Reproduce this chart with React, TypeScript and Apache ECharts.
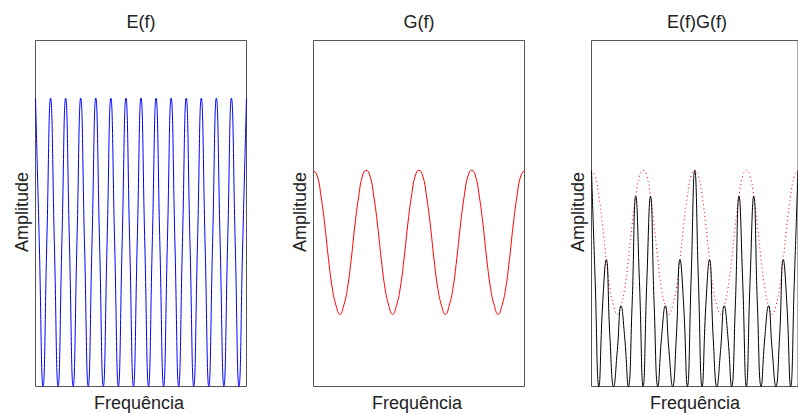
import React, { useEffect, useRef } from "react";
import * as echarts from "echarts";

// Sampled spectra on a shared frequency grid (57 samples, 4 per period of E)
const eValues: number[] = [
  1, 0.5, 0, 0.5, 1, 0.5, 0, 0.5, 1, 0.5, 0, 0.5, 1, 0.5, 0, 0.5,
  1, 0.5, 0, 0.5, 1, 0.5, 0, 0.5, 1, 0.5, 0, 0.5, 1, 0.5, 0, 0.5,
  1, 0.5, 0, 0.5, 1, 0.5, 0, 0.5, 1, 0.5, 0, 0.5, 1, 0.5, 0, 0.5,
  1, 0.5, 0, 0.5, 1, 0.5, 0, 0.5, 1,
];

const gValues: number[] = [
  0.75, 0.73, 0.66, 0.56, 0.44, 0.34, 0.28, 0.25, 0.28, 0.34, 0.44, 0.56, 0.66, 0.73,
  0.75, 0.73, 0.66, 0.56, 0.44, 0.34, 0.28, 0.25, 0.28, 0.34, 0.44, 0.56, 0.66, 0.73,
  0.75, 0.73, 0.66, 0.56, 0.44, 0.34, 0.28, 0.25, 0.28, 0.34, 0.44, 0.56, 0.66, 0.73,
  0.75, 0.73, 0.66, 0.56, 0.44, 0.34, 0.28, 0.25, 0.28, 0.34, 0.44, 0.56, 0.66, 0.73,
  0.75,
];

const panelTitles: string[] = ["E(f)", "G(f)", "E(f)G(f)"];
const xLabel = "Frequência";
const yLabel = "Amplitude";

const FONT = '18px "Liberation Sans", Arial, sans-serif';
const TEXT = "#222";
const panelLefts = [35.5, 313.5, 591.5];
const panelWidth = 211;
const panelTop = 40.5;
const panelHeight = 346;

const toPairs = (arr: number[]) => arr.map((v, i) => [i, v]);

export default function App() {
  const ref = useRef<HTMLDivElement>(null);

  useEffect(() => {
    if (!ref.current) return;
    const chart = echarts.init(ref.current, undefined, { renderer: "svg" });

    const product = eValues.map((v, i) => v * gValues[i]);

    const grids = panelLefts.map((left) => ({
      left,
      top: panelTop,
      width: panelWidth,
      height: panelHeight,
      show: true,
      borderColor: "#555",
      borderWidth: 1,
      backgroundColor: "transparent",
      containLabel: false,
    }));

    const hiddenAxis = {
      axisLine: { show: false },
      axisTick: { show: false },
      axisLabel: { show: false },
      splitLine: { show: false },
    };

    const xAxes = panelLefts.map((_, i) => ({
      type: "value" as const,
      gridIndex: i,
      min: 0,
      max: eValues.length - 1,
      ...hiddenAxis,
    }));
    const yAxes = panelLefts.map((_, i) => ({
      type: "value" as const,
      gridIndex: i,
      min: 0,
      max: 1.2,
      ...hiddenAxis,
    }));

    const lineBase = {
      type: "line" as const,
      showSymbol: false,
      smooth: true,
      silent: true,
    };

    const texts: any[] = [];
    panelLefts.forEach((left, i) => {
      const cx = left + panelWidth / 2;
      texts.push({
        type: "text",
        x: cx,
        y: 22,
        style: { text: panelTitles[i], font: FONT, fill: TEXT, textAlign: "center", textVerticalAlign: "middle" },
      });
      texts.push({
        type: "text",
        x: cx - 2,
        y: 403,
        style: { text: xLabel, font: FONT, fill: TEXT, textAlign: "center", textVerticalAlign: "middle" },
      });
      texts.push({
        type: "text",
        x: left - 14,
        y: 212,
        rotation: Math.PI / 2,
        style: { text: yLabel, font: FONT, fill: TEXT, textAlign: "center", textVerticalAlign: "middle" },
      });
    });

    chart.setOption({
      animation: false,
      backgroundColor: "#fff",
      grid: grids,
      xAxis: xAxes,
      yAxis: yAxes,
      series: [
        { ...lineBase, xAxisIndex: 0, yAxisIndex: 0, data: toPairs(eValues), lineStyle: { color: "#0000ff", width: 1 } },
        { ...lineBase, xAxisIndex: 1, yAxisIndex: 1, data: toPairs(gValues), lineStyle: { color: "#ff0000", width: 1 } },
        { ...lineBase, xAxisIndex: 2, yAxisIndex: 2, data: toPairs(gValues), lineStyle: { color: "#ff0000", width: 1, type: [1, 3] } },
        { ...lineBase, xAxisIndex: 2, yAxisIndex: 2, data: toPairs(product), lineStyle: { color: "#000", width: 1 } },
      ],
      graphic: texts,
    });

    return () => chart.dispose();
  }, []);

  return (
    <div
      ref={ref}
      style={{ position: "fixed", left: 0, top: 0, width: 798, height: 414 }}
    />
  );
}
